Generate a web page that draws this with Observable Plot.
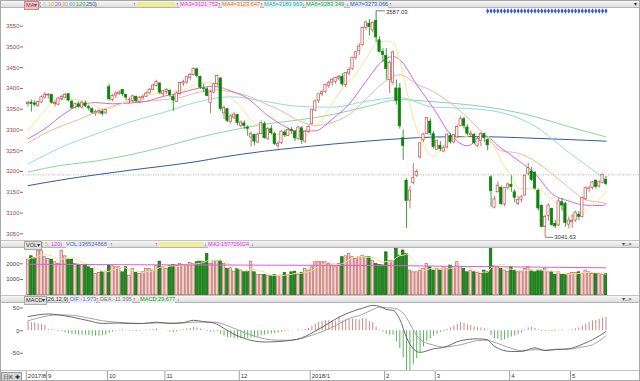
<!DOCTYPE html>
<html><head><meta charset="utf-8">
<script src="https://cdn.jsdelivr.net/npm/d3@7"></script>
<script src="https://cdn.jsdelivr.net/npm/@observablehq/plot@0.6"></script>
<style>
body{margin:0;background:#fff;font-family:"Liberation Sans",Arial,sans-serif;}
#root{position:relative;width:640px;height:381px;overflow:hidden;background:#fff;}
.hdr{position:absolute;left:0;width:640px;background:linear-gradient(#f6f6f6,#dedede);border-top:1px solid #c4c4c4;border-bottom:1px solid #b4b4b4;box-sizing:border-box;font-size:5.6px;white-space:nowrap;}
.hdr span{position:absolute;top:0;line-height:6.5px;}
.frame{position:absolute;border:1px solid #a8a8a8;box-sizing:border-box;pointer-events:none;}
</style></head><body><div id="root"></div>
<script>
// ---------------- DATA ----------------
// daily candles [open, high, low, close], index 0 = 2017-08-29 ... index 171 = 2018-05-16
const candles = [
[3362,3370,3355,3365],[3366,3372,3343,3363],[3364,3370,3356,3361],[3358,3370,3355,3367],[3366,3382,3364,3379],
[3378,3390,3374,3385],[3383,3388,3374,3385],[3384,3386,3362,3366],[3362,3370,3355,3365],[3361,3378,3358,3376],
[3374,3384,3370,3380],[3378,3388,3375,3384],[3386,3388,3368,3371],[3368,3372,3350,3353],[3354,3365,3350,3362],
[3362,3368,3352,3356],[3354,3368,3350,3366],[3364,3370,3354,3357],[3355,3360,3346,3352],[3350,3354,3338,3342],
[3340,3348,3333,3343],[3342,3350,3337,3345],[3344,3348,3333,3339],[3340,3350,3338,3348],[3403,3410,3370,3374],
[3372,3385,3368,3382],[3383,3392,3376,3388],[3386,3394,3384,3390],[3396,3398,3380,3386],[3384,3386,3370,3378],
[3372,3378,3362,3372],[3370,3384,3366,3381],[3380,3382,3366,3370],[3368,3380,3365,3378],[3376,3385,3372,3380],
[3380,3392,3378,3388],[3388,3400,3386,3397],[3396,3410,3394,3407],[3406,3420,3404,3416],[3412,3414,3385,3390],
[3386,3396,3380,3393],[3392,3400,3385,3396],[3394,3398,3378,3384],[3380,3384,3345,3371],[3368,3392,3366,3388],
[3386,3415,3384,3413],[3412,3420,3405,3415],[3414,3430,3410,3427],[3426,3436,3420,3433],[3432,3450,3430,3447],
[3446,3450,3425,3430],[3428,3430,3398,3402],[3400,3410,3390,3399],[3398,3402,3380,3382],[3365,3395,3339,3392],
[3390,3412,3388,3410],[3410,3432,3406,3430],[3424,3426,3345,3351],[3340,3358,3325,3353],[3350,3352,3318,3322],
[3320,3338,3314,3333],[3330,3342,3325,3337],[3336,3338,3310,3317],[3310,3322,3305,3318],[3316,3322,3302,3310],
[3306,3310,3285,3303],[3282,3296,3259,3290],[3288,3290,3262,3272],[3270,3292,3268,3289],[3290,3322,3288,3316],
[3314,3320,3278,3280],[3278,3306,3275,3303],[3302,3310,3288,3292],[3290,3294,3262,3266],[3262,3272,3254,3267],
[3268,3298,3265,3296],[3294,3300,3282,3287],[3286,3304,3284,3300],[3300,3306,3290,3297],[3296,3298,3272,3280],
[3278,3308,3276,3306],[3304,3308,3265,3275],[3272,3298,3268,3296],[3296,3310,3292,3307],[3314,3350,3312,3349],
[3347,3372,3345,3369],[3371,3386,3364,3386],[3386,3394,3380,3391],[3392,3410,3388,3409],[3406,3418,3400,3413],
[3414,3424,3406,3421],[3416,3426,3410,3425],[3424,3432,3418,3428],[3428,3436,3404,3410],[3408,3438,3402,3437],
[3436,3450,3430,3444],[3446,3475,3444,3474],[3474,3490,3468,3487],[3490,3508,3480,3501],[3504,3548,3502,3546],
[3546,3562,3540,3559],[3556,3566,3526,3548],[3540,3560,3534,3558],[3563,3587.03,3510,3523],[3516,3524,3486,3488],
[3488,3496,3462,3481],[3478,3496,3420,3447],[3420,3466,3388,3462],[3414,3490,3408,3487],[3400,3420,3360,3370],
[3400,3412,3302,3309],[3280,3300,3227,3262],[3178,3182,3062.74,3129],[3130,3164,3110,3154],[3172,3219,3168,3184],
[3190,3204,3186,3199],[3234,3270,3230,3268],[3275,3292,3270,3289],[3290,3330,3288,3329],[3320,3328,3286,3292],
[3290,3296,3254,3259],[3252,3276,3250,3273],[3262,3272,3248,3254],[3248,3262,3245,3256],[3258,3290,3254,3289],
[3286,3292,3266,3271],[3270,3290,3266,3288],[3282,3310,3280,3307],[3310,3333,3308,3326],[3326,3330,3302,3310],
[3306,3312,3286,3291],[3288,3298,3282,3291],[3288,3292,3264,3269],[3262,3282,3258,3279],[3274,3294,3260,3290],
[3290,3292,3270,3281],[3276,3278,3250,3263],[3186,3190,3114,3153],[3113,3140,3110,3133],[3150,3175,3148,3166],
[3160,3165,3118,3122],[3121,3162,3115,3160],[3160,3172,3155,3169],[3168,3190,3150,3163],[3150,3156,3125,3137],
[3122,3140,3118,3131],[3132,3142,3125,3138],[3142,3192,3140,3190],[3195,3220,3190,3208],[3200,3210,3176,3180],
[3197,3200,3155,3159],[3154,3156,3105,3111],[3117,3120,3064,3067],[3066,3095,3041.63,3091],[3093,3122,3080,3118],
[3110,3112,3068,3071],[3074,3082,3062,3068],[3070,3135,3068,3128],[3126,3135,3105,3118],[3122,3126,3066,3076],
[3072,3090,3062,3082],[3078,3096,3063,3081],[3082,3104,3078,3101],[3096,3104,3082,3091],[3090,3138,3088,3136],
[3134,3162,3130,3161],[3158,3164,3150,3159],[3160,3176,3156,3174],[3178,3180,3158,3163],[3164,3178,3160,3174],
[3173,3194,3170,3192],[3180,3188,3166,3170]
];
// volume per day (axis units)
const volumes = [
2270,2480,2350,2840,2840,2420,2310,2270,2100,1990,
2840,2480,2270,2270,1990,1950,1930,1930,1780,1670,
1360,1420,1460,1500,1890,1840,1780,1780,1460,1780,
1250,1670,1420,1360,1460,1670,1670,1570,1840,2140,
1780,1670,1840,1930,1890,1990,1930,1930,2060,1990,
2100,2140,2100,2630,1990,2200,2180,2180,1990,1670,
1720,1500,1670,1570,1460,1500,2140,1460,1290,1290,
1290,1250,1210,1290,1210,1250,1420,1290,1460,1500,
1290,1420,1670,1570,1780,2100,2140,
2100,2100,1990,1890,1780,1990,2420,2480,2630,
2420,2310,2420,2520,2420,2420,2200,1990,1930,1900,
2730,2200,2200,2950,2520,2850,2630,1570,1460,1460,
1570,1670,1990,1780,1570,1670,1570,1780,1670,1890,
1780,2100,1780,1670,1460,1570,1460,1420,1360,1570,
1460,2950,1840,1780,1670,1570,1500,1780,1570,1460,
1460,1670,1780,1570,1460,1570,1570,1670,1460,1460,
1290,1460,1290,1290,1360,1420,1420,1460,1360,1570,
1460,1360,1360,1360,1290,1365
];
// MACD histogram per day
const macdHist = [
20,18,17,15,14,12,3,2,1,-1,
-2,-4,-6,-8,-9,-10,-10,-10,-11,-12,
-12,-12,-11,-10,-6,-3,-1,1,2,1,
-1,-1,-2,-1,0,1,2,3,4,1,
0,-1,-3,-4,-3,-1,2,4,5,7,
6,4,1,-2,-3,-3,-2,-8,-12,-15,
-16,-17,-18,-18,-18,-17,-16,-16,-14,-11,
-10,-8,-7,-6,-5,-3,-2,-1,1,0,
2,1,3,5,10,14,18,20,22,22,
22,21,30,22,24,25,26,25,24,27,
26,20,17,8,2,-3,-8,-10,-10,-25,
-40,-60,-88,-90,-75,-62,-48,-36,-24,-18,
-12,-8,-4,-2,3,6,10,14,18,16,
13,11,8,7,6,5,2,-10,-18,-19,
-22,-20,-17,-14,-12,-9,-5,2,6,7,
5,2,-2,-2,-1,-2,-2,1,2,0,
1,2,4,6,10,15,18,22,23,25,
28,30
];
// moving-average lines: [dayIndex, value]
const ma10 = [[0,3297],[1,3309],[2,3318],[3,3328],[4,3337],[5,3347],[6,3357],[7,3366],[8,3370],[10,3373],[14,3373],[18,3366],[22,3352],[24,3352],[27,3360],[30,3371],[34,3381],[38,3387],[42,3393],[46,3397],[50,3410],[54,3414],[57,3408],[60,3377],[63,3356],[66,3324],[70,3304],[74,3289],[78,3291],[82,3287],[85,3307],[88,3337],[91,3377],[94,3409],[97,3435],[100,3471],[103,3508],[106,3514],[108,3510],[110,3467],[112,3396],[114,3329],[116,3282],[118,3249],[120,3237],[123,3260],[126,3280],[129,3283],[132,3290],[135,3293],[137,3275],[139,3242],[141,3212],[143,3190],[145,3160],[148,3158],[151,3159],[154,3139],[157,3120],[160,3093],[163,3093],[166,3113],[169,3132],[171,3152]];
const ma20 = [[0,3279],[5,3303],[10,3335],[15,3359],[20,3366],[25,3363],[30,3365],[35,3369],[40,3381],[45,3389],[50,3400],[55,3405],[60,3394],[65,3376],[70,3341],[75,3313],[80,3297],[85,3298],[90,3326],[95,3362],[100,3417],[105,3467],[108,3477],[110,3469],[115,3409],[120,3352],[125,3289],[130,3262],[135,3286],[140,3256],[145,3227],[150,3195],[155,3147],[160,3129],[165,3119],[170,3118],[171,3121.752]];
const ma30 = [[0,3269],[5,3292],[10,3310],[15,3325],[20,3343],[25,3357],[30,3368],[35,3369],[40,3373],[45,3378],[50,3390],[55,3397],[60,3392],[65,3382],[70,3364],[75,3346],[80,3323],[85,3311],[90,3318],[95,3337],[100,3374],[105,3413],[110,3433],[115,3411],[120,3392],[125,3365],[130,3330],[135,3290],[140,3250],[145,3244],[150,3225],[155,3195],[160,3161],[165,3132],[170,3125],[171,3123.647]];
const ma60 = [[0,3218],[10,3259],[20,3290],[30,3319],[40,3342],[50,3367],[60,3380],[70,3369],[80,3357],[90,3355],[100,3369],[110,3378],[120,3355],[130,3352],[140,3342],[150,3309],[160,3246],[171,3180.963]];
const ma120 = [[0,3199],[10,3215],[20,3225],[30,3240],[40,3259],[50,3281],[60,3299],[70,3314],[80,3324],[90,3337],[100,3356],[110,3373],[120,3368],[130,3361],[140,3350],[150,3332],[160,3308],[171,3283.349]];
const ma250 = [[0,3166],[10,3180],[20,3192],[30,3203],[40,3213],[50,3224],[57,3234],[70,3249],[80,3258],[90,3266],[100,3273],[110,3279],[120,3283],[130,3284],[140,3283],[150,3280],[160,3277],[171,3273.066]];
const volMa = [[0,1970],[30,1940],[60,1920],[90,1900],[110,1880],[130,1830],[150,1790],[171,1745]];
const dif = [[0,31],[3,35],[6,37],[9,35],[13,30],[18,22],[22,16],[26,17],[30,16],[34,16],[38,19],[42,16],[46,18],[49,23],[52,20],[55,17],[58,5],[61,-8],[64,-17],[67,-23],[70,-25],[74,-24],[78,-21],[81,-16],[84,-5],[88,12],[92,30],[95,40],[99,50],[102,56],[104,54],[106,47],[108,45],[110,25],[112,-15],[113,-30],[116,-48],[120,-40],[123,-37],[128,-22],[133,-18],[136,-20],[137,-28],[140,-42],[143,-46],[146,-46],[150,-38],[153,-44],[156,-42],[160,-40],[164,-30],[167,-20],[171,-1.973]];
const dea = [[0,22],[3,28],[6,33],[9,35],[13,34],[18,28],[22,22],[26,19],[30,17],[34,16],[38,17],[42,17],[46,17],[49,19],[52,19],[55,19],[58,14],[61,5],[64,-4],[67,-12],[70,-18],[74,-21],[78,-21],[81,-17],[84,-10],[88,1],[92,15],[95,27],[99,36],[102,47],[104,52],[106,51],[108,50],[110,45],[112,29],[113,15],[116,-19],[120,-32],[123,-36],[128,-31],[133,-22],[136,-21],[137,-23],[140,-31],[143,-39],[146,-44],[150,-42],[153,-43],[156,-41],[160,-41],[164,-36],[167,-31],[171,-11.395]];
const monthTickIdx = [0,6,24,41,63,84,106,121,143,161];
const monthTickLabels = ["2017/8","9","10","11","12","2018/1","2","3","4","5"];
const priceTicks = [3050,3100,3150,3200,3250,3300,3350,3400,3450,3500,3550];
const volTicks = [1000,2000];
const macdTicks = [-50,0,50];
const markerIdx = [136,137,138,139,140,141,142,143,144,145,146,147,148,149,150,151,152,153,154,155,156,157,158,159,160,161,162,163,164,165,166,167,168,169,170,171];
const peakIdx = 103, troughIdx = 153;
const refLine = 3192;

// ---------------- STYLE ----------------
const UP = "#c0504c", DOWN = "#0c840c";
const W = 640, ML = 23;
const xDom = [(ML - 27.5) / 3.38, (W - 27.5) / 3.38];
const font = "Liberation Sans, Arial, sans-serif";
const root = document.getElementById("root");
const plain = d => String(d);

const rows = candles.map(([o, h, l, c], i) => ({i, o, h, l, c, up: c >= o, v: volumes[i], m: macdHist[i]}));
const pairX = d => d[0], pairY = d => d[1];
const bodyTop = d => (Math.abs(d.c - d.o) < 0.8 ? d.o + 0.8 : d.c);

function place(el, top) { el.style.position = "absolute"; el.style.left = "0px"; el.style.top = top + "px"; root.appendChild(el); }
function hdr(top, h, items, bg) {
  const d = document.createElement("div"); d.className = "hdr"; d.style.top = top + "px"; d.style.height = h + "px";
  if (bg) d.style.background = bg;
  for (const [x, txt, css] of items) { const s = document.createElement("span"); s.style.left = x + "px"; s.textContent = txt; if (css) s.style.cssText += css; d.appendChild(s); }
  root.appendChild(d);
}
const common = {width: W, marginLeft: ML, marginRight: 0, marginTop: 0, marginBottom: 0,
  style: {fontFamily: font, fontSize: "6px", background: "transparent", overflow: "visible"}};

// ---------------- PRICE PANEL ----------------
const price = Plot.plot({...common, height: 232,
  x: {domain: xDom, axis: null},
  y: {domain: [3033.9, 3592.6], axis: null},
  marks: [
    Plot.ruleY([refLine], {stroke: "#9a9a9a", strokeDasharray: "1,1.5", strokeWidth: 0.8}),
    Plot.line(ma250, {x: pairX, y: pairY, stroke: "#2e5c9e", strokeWidth: 1, curve: "monotone-x"}),
    Plot.line(ma120, {x: pairX, y: pairY, stroke: "#8cd4a6", strokeWidth: 1, curve: "monotone-x"}),
    Plot.line(ma60, {x: pairX, y: pairY, stroke: "#92dae6", strokeWidth: 1, curve: "monotone-x"}),
    Plot.line(ma30, {x: pairX, y: pairY, stroke: "#e6bc9e", strokeWidth: 1, curve: "monotone-x"}),
    Plot.line(ma20, {x: pairX, y: pairY, stroke: "#d866d8", strokeWidth: 1, curve: "monotone-x"}),
    Plot.line(ma10, {x: pairX, y: pairY, stroke: "#f0e890", strokeWidth: 1, curve: "monotone-x"}),
    Plot.ruleX(rows, {x: "i", y1: "l", y2: "h", stroke: d => d.up ? UP : DOWN, strokeWidth: 0.8}),
    Plot.rect(rows, {x1: d => d.i - 0.34, x2: d => d.i + 0.34, y1: "o", y2: bodyTop,
      fill: d => d.up ? "#fff" : DOWN, stroke: d => d.up ? UP : DOWN, strokeWidth: 0.7}),
    Plot.dot(markerIdx, {x: d => d, frameAnchor: "top", dy: 2.5, symbol: "diamond", r: 1.6, fill: "#3a5cc4"}),
    Plot.link([rows[peakIdx]], {x1: "i", y1: "h", x2: d => d.i + 2.6, y2: "h", stroke: "#444", strokeWidth: 0.7}),
    Plot.text([rows[peakIdx]], {x: d => d.i + 2.9, y: "h", text: d => d.h.toFixed(2), textAnchor: "start", dy: 1, fontSize: 6, fill: "#333"}),
    Plot.link([rows[troughIdx]], {x1: "i", y1: "l", x2: d => d.i + 2.4, y2: "l", stroke: "#444", strokeWidth: 0.7}),
    Plot.text([rows[troughIdx]], {x: d => d.i + 2.7, y: "l", text: d => d.l.toFixed(2), textAnchor: "start", dy: -0.5, fontSize: 6, fill: "#333"}),
    Plot.axisY(priceTicks, {anchor: "left", tickSize: 3, tickPadding: 1, tickFormat: plain, fill: "#a04848", stroke: "#777", fontSize: 6, label: null})
  ]});
place(price, 8);

// ---------------- VOLUME PANEL ----------------
const vol = Plot.plot({...common, height: 47,
  x: {domain: xDom, axis: null},
  y: {domain: [-19, 2975], axis: null},
  marks: [
    Plot.rect(rows, {x1: d => d.i - 0.38, x2: d => d.i + 0.38, y1: 0, y2: "v",
      fill: d => d.up ? "#f4d0cc" : "#1a8e1a", stroke: d => d.up ? "#b05a56" : "#0b5e0b", strokeWidth: 0.6}),
    Plot.line(rows, Plot.windowY({k: 5, anchor: "end"}, {x: "i", y: "v", stroke: "#ece48a", strokeWidth: 1})),
    Plot.line(volMa, {x: pairX, y: pairY, stroke: "#e05ae0", strokeWidth: 1}),
    Plot.axisY(volTicks, {anchor: "left", tickSize: 3, tickPadding: 1, tickFormat: plain, fill: "#444", stroke: "#777", fontSize: 6, label: null})
  ]});
place(vol, 248);

// ---------------- MACD PANEL ----------------
const macd = Plot.plot({...common, height: 68,
  x: {domain: xDom, axis: null},
  y: {domain: [-90.3, 60.2], axis: null},
  marks: [
    Plot.ruleX(rows, {x: "i", y1: 0, y2: "m", stroke: d => d.m >= 0 ? "#c97a76" : "#4aa84a", strokeWidth: 0.9}),
    Plot.line(dea, {x: pairX, y: pairY, stroke: "#9a9a9a", strokeWidth: 0.9, curve: "monotone-x"}),
    Plot.line(dif, {x: pairX, y: pairY, stroke: "#5a5a5a", strokeWidth: 0.9, curve: "monotone-x"}),
    Plot.axisY(macdTicks, {anchor: "left", tickSize: 3, tickPadding: 1, tickFormat: plain, fill: "#444", stroke: "#777", fontSize: 6, label: null})
  ]});
place(macd, 303);

// ---------------- HEADERS ----------------
hdr(0, 8, [
  [24, "MA▾", "background:#f3c3c3;border:0.5px solid #c88;padding:0 1px;color:#933"],
  [39, "(", "color:#444"],
  [43, "5,", "color:#ccc"], [48, "10,", "color:#c8c040"], [55, "20,", "color:#c84cc8"], [62, "30,", "color:#d09a70"],
  [69, "60,", "color:#38b8c8"], [76, "120,", "color:#38a060"], [86, "250", "color:#2e5c9e"], [95, ")", "color:#444"],
  [133, "↑", "color:#d00"], [137, "", "width:38px;height:5.5px;background:#eeee9a;top:0.5px"],
  [176, "↑", "color:#d00"], [180, "MA3=3121.752", "color:#c84cc8;background:#f6e4f6"],
  [218, "↑", "color:#d00"], [222, "MA4=3123.647", "color:#c08050;background:#f8ece2"],
  [260, "↑", "color:#d00"], [264, "MA5=3180.963", "color:#2aa8b8;background:#e2f4f6"],
  [302, "↓", "color:#066"], [306, "MA6=3283.349", "color:#2e9a58;background:#e2f4e8"],
  [346, "↓", "color:#066"], [350, "MA7=3273.066", "color:#2e5c9e;background:#e4ecf6"],
  [389, "↑", "color:#d00"], [634, "▾", "color:#333"]
]);
hdr(240, 8, [
  [24, "VOL▾", "background:#e0e0e0;border:0.5px solid #aaa;padding:0 1px;color:#333"],
  [41, "(", "color:#444"], [45, "5,", "color:#c8c040"], [51, "120)", "color:#c84cc8"],
  [66, "VOL:136524868", "color:#5a6aa0;background:#e6eaf4"], [110, "↑", "color:#d00"],
  [155, "↑", "color:#d00"], [159, "", "width:44px;height:5.5px;background:#eeee9a;top:0.5px"],
  [204, "↓", "color:#066"], [208, "MA2:157729024", "color:#c84cc8;background:#f6e4f6"], [251, "↓", "color:#066"],
  [622, "▾□×", "color:#555"]
]);
hdr(295, 8, [
  [24, "MACD▾", "background:#e0e0e0;border:0.5px solid #aaa;padding:0 1px;color:#333"],
  [46, "(26,12,9)", "color:#333"],
  [70, "DIF:-1.973", "color:#6a7aa8;background:#e6eaf4"], [96, "↑", "color:#d00"],
  [100, "DEA:-11.395", "color:#777;background:#ececec"], [133, "↑", "color:#d00"],
  [140, "MACD:29.677", "color:#2a902a;background:#e2f2e2"], [177, "↓", "color:#066"],
  [622, "▾□×", "color:#555"]
]);
hdr(370, 11, [
  [1, "日K ✚", "background:#d8d8d8;border:0.5px solid #999;line-height:8px;top:0.5px;padding:0 1px;color:#222;font-size:6px"]
], "#fff");

// ---------------- TIME AXIS STRIP ----------------
const monthTicks = monthTickIdx.map((i, k) => ({i, label: monthTickLabels[k]}));
const axis = Plot.plot({...common, height: 10,
  x: {domain: xDom, axis: null},
  marks: [
    Plot.ruleX(monthTicks, {x: d => d.i - 0.5, stroke: "#888", strokeWidth: 0.8}),
    Plot.text(monthTicks, {x: d => d.i - 0.5, text: "label", textAnchor: "start", dx: 1.5, frameAnchor: "middle", fontSize: 6, fill: "#333"})
  ]});
place(axis, 371);

const fr = document.createElement("div"); fr.className = "frame";
fr.style.cssText += "left:0;top:0;width:640px;height:381px"; root.appendChild(fr);
</script>
</body></html>
